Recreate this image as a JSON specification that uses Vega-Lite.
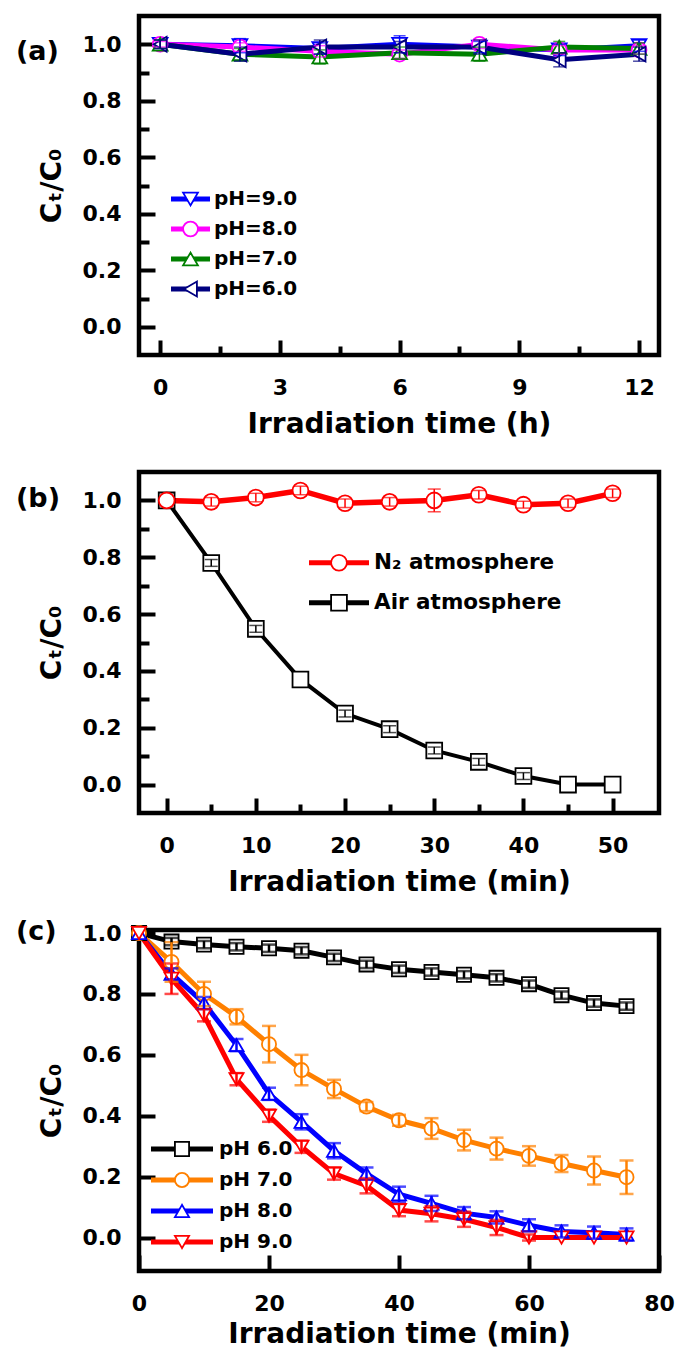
{
  "$schema": "https://vega.github.io/schema/vega-lite/v6.json",
  "background": "white",
  "padding": {"left": 13, "top": 13, "right": 5, "bottom": 5},
  "datasets": {
    "a": [
      {"series": "pH=9.0", "t": 0, "v": 1.0, "e": 0.015},
      {"series": "pH=9.0", "t": 2, "v": 0.995, "e": 0.025},
      {"series": "pH=9.0", "t": 4, "v": 0.985, "e": 0.02},
      {"series": "pH=9.0", "t": 6, "v": 1.0, "e": 0.03},
      {"series": "pH=9.0", "t": 8, "v": 0.99, "e": 0.02},
      {"series": "pH=9.0", "t": 10, "v": 0.98, "e": 0.02},
      {"series": "pH=9.0", "t": 12, "v": 0.995, "e": 0.02},
      {"series": "pH=8.0", "t": 0, "v": 1.0, "e": 0.01},
      {"series": "pH=8.0", "t": 2, "v": 0.99, "e": 0.015},
      {"series": "pH=8.0", "t": 4, "v": 0.975, "e": 0.02},
      {"series": "pH=8.0", "t": 6, "v": 0.965, "e": 0.015},
      {"series": "pH=8.0", "t": 8, "v": 1.0, "e": 0.015},
      {"series": "pH=8.0", "t": 10, "v": 0.98, "e": 0.015},
      {"series": "pH=8.0", "t": 12, "v": 0.98, "e": 0.015},
      {"series": "pH=7.0", "t": 0, "v": 1.0, "e": 0.015},
      {"series": "pH=7.0", "t": 2, "v": 0.965, "e": 0.02},
      {"series": "pH=7.0", "t": 4, "v": 0.955, "e": 0.025},
      {"series": "pH=7.0", "t": 6, "v": 0.97, "e": 0.02},
      {"series": "pH=7.0", "t": 8, "v": 0.965, "e": 0.025},
      {"series": "pH=7.0", "t": 10, "v": 0.99, "e": 0.02},
      {"series": "pH=7.0", "t": 12, "v": 0.985, "e": 0.02},
      {"series": "pH=6.0", "t": 0, "v": 1.0, "e": 0.015},
      {"series": "pH=6.0", "t": 2, "v": 0.965, "e": 0.025},
      {"series": "pH=6.0", "t": 4, "v": 0.99, "e": 0.025},
      {"series": "pH=6.0", "t": 6, "v": 0.99, "e": 0.02},
      {"series": "pH=6.0", "t": 8, "v": 0.99, "e": 0.025},
      {"series": "pH=6.0", "t": 10, "v": 0.945, "e": 0.025},
      {"series": "pH=6.0", "t": 12, "v": 0.965, "e": 0.025}
    ],
    "b": [
      {"series": "Air atmosphere", "t": 0, "v": 1.0, "e": 0},
      {"series": "Air atmosphere", "t": 5, "v": 0.78, "e": 0.012},
      {"series": "Air atmosphere", "t": 10, "v": 0.548, "e": 0.012},
      {"series": "Air atmosphere", "t": 15, "v": 0.37, "e": 0},
      {"series": "Air atmosphere", "t": 20, "v": 0.25, "e": 0.012},
      {"series": "Air atmosphere", "t": 25, "v": 0.195, "e": 0.012},
      {"series": "Air atmosphere", "t": 30, "v": 0.12, "e": 0.012},
      {"series": "Air atmosphere", "t": 35, "v": 0.08, "e": 0.012},
      {"series": "Air atmosphere", "t": 40, "v": 0.03, "e": 0.012},
      {"series": "Air atmosphere", "t": 45, "v": 0.0, "e": 0},
      {"series": "Air atmosphere", "t": 50, "v": 0.0, "e": 0},
      {"series": "N₂ atmosphere", "t": 0, "v": 1.0, "e": 0},
      {"series": "N₂ atmosphere", "t": 5, "v": 0.995, "e": 0.015},
      {"series": "N₂ atmosphere", "t": 10, "v": 1.01, "e": 0.015},
      {"series": "N₂ atmosphere", "t": 15, "v": 1.035, "e": 0.015},
      {"series": "N₂ atmosphere", "t": 20, "v": 0.99, "e": 0.015},
      {"series": "N₂ atmosphere", "t": 25, "v": 0.995, "e": 0.015},
      {"series": "N₂ atmosphere", "t": 30, "v": 1.0, "e": 0.04},
      {"series": "N₂ atmosphere", "t": 35, "v": 1.02, "e": 0.015},
      {"series": "N₂ atmosphere", "t": 40, "v": 0.985, "e": 0.012},
      {"series": "N₂ atmosphere", "t": 45, "v": 0.99, "e": 0.015},
      {"series": "N₂ atmosphere", "t": 50, "v": 1.025, "e": 0.015}
    ],
    "c": [
      {"series": "pH 6.0", "t": 0, "v": 1.0, "e": 0},
      {"series": "pH 6.0", "t": 5, "v": 0.972, "e": 0.012},
      {"series": "pH 6.0", "t": 10, "v": 0.962, "e": 0.012},
      {"series": "pH 6.0", "t": 15, "v": 0.955, "e": 0.012},
      {"series": "pH 6.0", "t": 20, "v": 0.95, "e": 0.012},
      {"series": "pH 6.0", "t": 25, "v": 0.942, "e": 0.012},
      {"series": "pH 6.0", "t": 30, "v": 0.92, "e": 0.012},
      {"series": "pH 6.0", "t": 35, "v": 0.897, "e": 0.012},
      {"series": "pH 6.0", "t": 40, "v": 0.881, "e": 0.012},
      {"series": "pH 6.0", "t": 45, "v": 0.872, "e": 0.012},
      {"series": "pH 6.0", "t": 50, "v": 0.863, "e": 0.012},
      {"series": "pH 6.0", "t": 55, "v": 0.853, "e": 0.012},
      {"series": "pH 6.0", "t": 60, "v": 0.832, "e": 0.012},
      {"series": "pH 6.0", "t": 65, "v": 0.796, "e": 0.012},
      {"series": "pH 6.0", "t": 70, "v": 0.77, "e": 0.012},
      {"series": "pH 6.0", "t": 75, "v": 0.76, "e": 0.012},
      {"series": "pH 7.0", "t": 0, "v": 1.0, "e": 0},
      {"series": "pH 7.0", "t": 5, "v": 0.905, "e": 0.065},
      {"series": "pH 7.0", "t": 10, "v": 0.8, "e": 0.04},
      {"series": "pH 7.0", "t": 15, "v": 0.725, "e": 0.025},
      {"series": "pH 7.0", "t": 20, "v": 0.635, "e": 0.06},
      {"series": "pH 7.0", "t": 25, "v": 0.55, "e": 0.05},
      {"series": "pH 7.0", "t": 30, "v": 0.488, "e": 0.03},
      {"series": "pH 7.0", "t": 35, "v": 0.43, "e": 0.015},
      {"series": "pH 7.0", "t": 40, "v": 0.385, "e": 0.018},
      {"series": "pH 7.0", "t": 45, "v": 0.358, "e": 0.034},
      {"series": "pH 7.0", "t": 50, "v": 0.32, "e": 0.034},
      {"series": "pH 7.0", "t": 55, "v": 0.292, "e": 0.036},
      {"series": "pH 7.0", "t": 60, "v": 0.268, "e": 0.032},
      {"series": "pH 7.0", "t": 65, "v": 0.243, "e": 0.028},
      {"series": "pH 7.0", "t": 70, "v": 0.22, "e": 0.046},
      {"series": "pH 7.0", "t": 75, "v": 0.198, "e": 0.055},
      {"series": "pH 8.0", "t": 0, "v": 1.0, "e": 0},
      {"series": "pH 8.0", "t": 5, "v": 0.866, "e": 0.018},
      {"series": "pH 8.0", "t": 10, "v": 0.77, "e": 0.02},
      {"series": "pH 8.0", "t": 15, "v": 0.632, "e": 0.02},
      {"series": "pH 8.0", "t": 20, "v": 0.472, "e": 0.02},
      {"series": "pH 8.0", "t": 25, "v": 0.38, "e": 0.025},
      {"series": "pH 8.0", "t": 30, "v": 0.285, "e": 0.025},
      {"series": "pH 8.0", "t": 35, "v": 0.21, "e": 0.02},
      {"series": "pH 8.0", "t": 40, "v": 0.142, "e": 0.025},
      {"series": "pH 8.0", "t": 45, "v": 0.112, "e": 0.025},
      {"series": "pH 8.0", "t": 50, "v": 0.08, "e": 0.02},
      {"series": "pH 8.0", "t": 55, "v": 0.066, "e": 0.02},
      {"series": "pH 8.0", "t": 60, "v": 0.04, "e": 0.02},
      {"series": "pH 8.0", "t": 65, "v": 0.02, "e": 0.02},
      {"series": "pH 8.0", "t": 70, "v": 0.016, "e": 0.02},
      {"series": "pH 8.0", "t": 75, "v": 0.01, "e": 0.02},
      {"series": "pH 9.0", "t": 0, "v": 1.0, "e": 0},
      {"series": "pH 9.0", "t": 5, "v": 0.85, "e": 0.05},
      {"series": "pH 9.0", "t": 10, "v": 0.73, "e": 0.02},
      {"series": "pH 9.0", "t": 15, "v": 0.52, "e": 0.02},
      {"series": "pH 9.0", "t": 20, "v": 0.4, "e": 0.02},
      {"series": "pH 9.0", "t": 25, "v": 0.298, "e": 0.02},
      {"series": "pH 9.0", "t": 30, "v": 0.21, "e": 0.02},
      {"series": "pH 9.0", "t": 35, "v": 0.17, "e": 0.025},
      {"series": "pH 9.0", "t": 40, "v": 0.09, "e": 0.02},
      {"series": "pH 9.0", "t": 45, "v": 0.078, "e": 0.025},
      {"series": "pH 9.0", "t": 50, "v": 0.06, "e": 0.025},
      {"series": "pH 9.0", "t": 55, "v": 0.033, "e": 0.025},
      {"series": "pH 9.0", "t": 60, "v": 0.0, "e": 0.01},
      {"series": "pH 9.0", "t": 65, "v": 0.0, "e": 0},
      {"series": "pH 9.0", "t": 70, "v": 0.0, "e": 0},
      {"series": "pH 9.0", "t": 75, "v": 0.0, "e": 0}
    ]
  },
  "spacing": 117,
  "bounds": "flush",
  "resolve": {"scale": {"color": "independent", "stroke": "independent", "shape": "independent"}},
  "vconcat": [
    {
      "width": 520,
      "height": 339,
      "data": {"name": "a"},
      "title": {"text": "(a)", "anchor": "start", "frame": "group", "orient": "top", "offset": 0, "dx": -123, "dy": 63, "baseline": "middle", "fontSize": 27, "fontWeight": "bold", "font": "DejaVu Sans", "color": "black"},
      "encoding": {
        "x": {"field": "t", "type": "quantitative", "scale": {"domain": [-0.53, 12.5], "nice": false, "zero": false},
          "axis": {"title": "Irradiation time (h)", "values": [0, 1.5, 3, 4.5, 6, 7.5, 9, 10.5, 12], "format": "d", "labelExpr": "datum.value % 3 === 0 ? datum.label : ''", "tickSize": {"condition": {"test": "datum.value % 3 === 0", "value": -15}, "value": -9}, "labelPadding": 37, "titlePadding": 6}},
        "y": {"field": "v", "type": "quantitative", "scale": {"domain": [-0.1, 1.1], "nice": false, "zero": false},
          "axis": {"title": "Cₜ/C₀", "values": [0, 0.1, 0.2, 0.3, 0.4, 0.5, 0.6, 0.7, 0.8, 0.9, 1.0], "labelExpr": "round(datum.value*10) % 2 === 0 ? format(datum.value, '.1f') : ''", "tickSize": {"condition": {"test": "round(datum.value*10) % 2 === 0", "value": -16}, "value": -10}, "labelPadding": 34, "titlePadding": 16}}
      },
      "layer": [
        {
          "mark": {"type": "line", "strokeWidth": 5},
          "encoding": {
            "color": {"field": "series", "type": "nominal",
              "scale": {"domain": ["pH=9.0", "pH=8.0", "pH=7.0", "pH=6.0"], "range": ["#0000FF", "#FF00FF", "#008000", "#000080"]},
              "legend": {"title": null, "orient": "none", "legendX": 29.5, "legendY": 169, "symbolType": "stroke", "symbolSize": 1521, "symbolStrokeWidth": 5, "clipHeight": 28, "rowPadding": 2, "labelOffset": 1.5, "padding": 0, "labelLimit": 400}}
          }
        },
        {
          "mark": {"type": "point", "filled": true, "fill": "white", "size": 220, "strokeWidth": 1.8, "opacity": 1},
          "encoding": {
            "stroke": {"field": "series", "type": "nominal", "sort": "descending", "scale": {"range": ["#0000FF", "#FF00FF", "#008000", "#000080"]},
              "legend": {"title": null, "orient": "none", "legendX": 41.5, "legendY": 169, "symbolSize": 220, "symbolStrokeWidth": 1.8, "symbolFillColor": "white", "clipHeight": 28, "rowPadding": 2, "labelExpr": "''", "padding": 0}},
            "shape": {"field": "series", "type": "nominal", "sort": "descending", "scale": {"range": ["triangle-down", "circle", "triangle-up", "triangle-left"]},
              "legend": {"title": null, "orient": "none", "legendX": 41.5, "legendY": 169, "symbolSize": 220, "symbolStrokeWidth": 1.8, "symbolFillColor": "white", "clipHeight": 28, "rowPadding": 2, "labelExpr": "''", "padding": 0}}
          }
        },
        {
          "transform": [{"filter": "datum.e > 0"}],
          "mark": {"type": "errorbar", "ticks": true, "size": 12, "thickness": 1.5},
          "encoding": {
            "yError": {"field": "e"},
            "color": {"field": "series", "type": "nominal", "legend": null}
          }
        }
      ]
    },
    {
      "width": 520,
      "height": 341,
      "data": {"name": "b"},
      "title": {"text": "(b)", "anchor": "start", "frame": "group", "orient": "top", "offset": 0, "dx": -123, "dy": 54, "baseline": "middle", "fontSize": 27, "fontWeight": "bold", "font": "DejaVu Sans", "color": "black"},
      "encoding": {
        "x": {"field": "t", "type": "quantitative", "scale": {"domain": [-3.1, 55.2], "nice": false, "zero": false},
          "axis": {"title": "Irradiation time (min)", "values": [0, 5, 10, 15, 20, 25, 30, 35, 40, 45, 50], "format": "d", "labelExpr": "datum.value % 10 === 0 ? datum.label : ''", "tickSize": {"condition": {"test": "datum.value % 10 === 0", "value": -15}, "value": -9}, "labelPadding": 37, "titlePadding": 6}},
        "y": {"field": "v", "type": "quantitative", "scale": {"domain": [-0.1, 1.1], "nice": false, "zero": false},
          "axis": {"title": "Cₜ/C₀", "values": [0, 0.1, 0.2, 0.3, 0.4, 0.5, 0.6, 0.7, 0.8, 0.9, 1.0], "labelExpr": "round(datum.value*10) % 2 === 0 ? format(datum.value, '.1f') : ''", "tickSize": {"condition": {"test": "round(datum.value*10) % 2 === 0", "value": -16}, "value": -10}, "labelPadding": 34, "titlePadding": 16}}
      },
      "layer": [
        {
          "mark": {"type": "line"},
          "encoding": {
            "color": {"field": "series", "type": "nominal",
              "scale": {"domain": ["N₂ atmosphere", "Air atmosphere"], "range": ["#FF0000", "#000000"]},
              "legend": {"title": null, "orient": "none", "legendX": 167.5, "legendY": 71.7, "symbolType": "stroke", "symbolSize": 3600, "symbolStrokeWidth": 5, "clipHeight": 38, "rowPadding": 2, "labelOffset": 2.5, "padding": 0, "labelLimit": 400, "labelFontSize": 21.5}},
            "strokeWidth": {"field": "series", "type": "nominal", "scale": {"domain": ["N₂ atmosphere", "Air atmosphere"], "range": [5.5, 4]}, "legend": null}
          }
        },
        {
          "mark": {"type": "point", "filled": true, "fill": "white", "size": 250, "strokeWidth": 1.8, "opacity": 1},
          "encoding": {
            "stroke": {"field": "series", "type": "nominal", "sort": "descending", "scale": {"range": ["#FF0000", "#000000"]},
              "legend": {"title": null, "orient": "none", "legendX": 189.25, "legendY": 71.7, "symbolSize": 250, "symbolStrokeWidth": 1.8, "symbolFillColor": "white", "clipHeight": 38, "rowPadding": 2, "labelExpr": "''", "padding": 0, "labelFontSize": 21.5}},
            "shape": {"field": "series", "type": "nominal", "sort": "descending", "scale": {"range": ["circle", "square"]},
              "legend": {"title": null, "orient": "none", "legendX": 189.25, "legendY": 71.7, "symbolSize": 250, "symbolStrokeWidth": 1.8, "symbolFillColor": "white", "clipHeight": 38, "rowPadding": 2, "labelExpr": "''", "padding": 0, "labelFontSize": 21.5}}
          }
        },
        {
          "transform": [{"filter": "datum.e > 0"}],
          "mark": {"type": "errorbar", "ticks": true, "size": 13, "thickness": 1.5},
          "encoding": {
            "yError": {"field": "e"},
            "color": {"field": "series", "type": "nominal", "legend": null}
          }
        }
      ]
    },
    {
      "width": 520,
      "height": 341,
      "data": {"name": "c"},
      "title": {"text": "(c)", "anchor": "start", "frame": "group", "orient": "top", "offset": 0, "dx": -123, "dy": 37, "baseline": "middle", "fontSize": 27, "fontWeight": "bold", "font": "DejaVu Sans", "color": "black"},
      "encoding": {
        "x": {"field": "t", "type": "quantitative", "scale": {"domain": [0, 80], "nice": false, "zero": false},
          "axis": {"title": "Irradiation time (min)", "values": [0, 20, 40, 60, 80], "format": "d", "tickSize": -16, "labelPadding": 38, "titlePadding": 6}},
        "y": {"field": "v", "type": "quantitative", "scale": {"domain": [-0.11, 1.01], "nice": false, "zero": false},
          "axis": {"title": "Cₜ/C₀", "values": [0, 0.2, 0.4, 0.6, 0.8, 1.0], "format": ".1f", "tickSize": -16, "labelPadding": 34, "titlePadding": 16}}
      },
      "layer": [
        {
          "mark": {"type": "line", "strokeWidth": 5},
          "encoding": {
            "color": {"field": "series", "type": "nominal",
              "scale": {"domain": ["pH 6.0", "pH 7.0", "pH 8.0", "pH 9.0"], "range": ["#000000", "#FF8000", "#0000FF", "#FF0000"]},
              "legend": {"title": null, "orient": "none", "legendX": 9.5, "legendY": 204.5, "symbolType": "stroke", "symbolSize": 3844, "symbolStrokeWidth": 5, "clipHeight": 29, "rowPadding": 2, "labelOffset": 3.5, "padding": 0, "labelLimit": 400}}
          }
        },
        {
          "mark": {"type": "point", "filled": true, "fill": "white", "size": 200, "strokeWidth": 1.8, "opacity": 1},
          "encoding": {
            "stroke": {"field": "series", "type": "nominal", "sort": "ascending", "scale": {"range": ["#000000", "#FF8000", "#0000FF", "#FF0000"]},
              "legend": {"title": null, "orient": "none", "legendX": 33, "legendY": 204.5, "symbolSize": 200, "symbolStrokeWidth": 1.8, "symbolFillColor": "white", "clipHeight": 29, "rowPadding": 2, "labelExpr": "''", "padding": 0}},
            "shape": {"field": "series", "type": "nominal", "sort": "ascending", "scale": {"range": ["square", "circle", "triangle-up", "triangle-down"]},
              "legend": {"title": null, "orient": "none", "legendX": 33, "legendY": 204.5, "symbolSize": 200, "symbolStrokeWidth": 1.8, "symbolFillColor": "white", "clipHeight": 29, "rowPadding": 2, "labelExpr": "''", "padding": 0}}
          }
        },
        {
          "transform": [{"filter": "datum.e > 0"}],
          "mark": {"type": "errorbar", "ticks": true, "size": 14, "thickness": 2.5},
          "encoding": {
            "yError": {"field": "e"},
            "color": {"field": "series", "type": "nominal", "legend": null}
          }
        }
      ]
    }
  ],
  "config": {
    "font": "DejaVu Sans",
    "view": {"stroke": "black", "strokeWidth": 4.5},
    "axis": {"domain": false, "grid": false, "tickColor": "black", "tickWidth": 4, "labelFont": "DejaVu Sans", "labelFontWeight": "bold", "labelFontSize": 22, "labelColor": "black", "titleFont": "DejaVu Sans", "titleFontWeight": "bold", "titleFontSize": 28, "titleColor": "black", "labelFlush": false, "labelOverlap": false},
    "legend": {"labelFont": "DejaVu Sans", "labelFontWeight": "bold", "labelFontSize": 20, "labelColor": "black"}
  }
}
